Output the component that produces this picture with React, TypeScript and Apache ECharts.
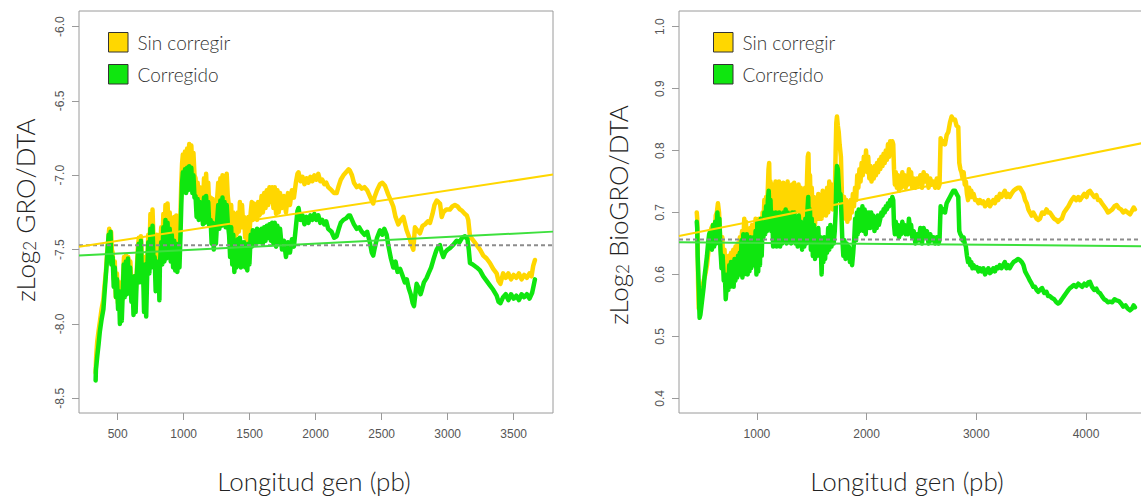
import React, { useEffect, useRef } from "react";
import * as echarts from "echarts";

// ---------- tick values ----------
const leftXTicks = [500, 1000, 1500, 2000, 2500, 3000, 3500];
const leftYTicks = [-8.5, -8.0, -7.5, -7.0, -6.5, -6.0];
const rightXTicks = [1000, 2000, 3000, 4000];
const rightYTicks = [0.4, 0.5, 0.6, 0.7, 0.8, 0.9, 1.0];

// ---------- left panel: zLog2 GRO/DTA ----------
const leftSinCorregir = [
  [333,-8.33],[337,-8.22],[345,-8.12],[355,-8.05],[366,-7.98],[378,-7.90],[391,-7.84],[400,-7.75],[411,-7.65],[420,-7.52],[429,-7.43],
  [436,-7.36],[444,-7.45],[450,-7.38],[456,-7.50],
  [462,-7.52],[470,-7.70],[478,-7.58],[486,-7.82],[494,-7.66],[502,-7.86],[510,-7.72],[518,-7.88],[526,-7.74],[534,-7.84],[540,-7.70],
  [548,-7.55],[556,-7.72],[564,-7.54],[572,-7.74],[580,-7.55],[588,-7.70],[596,-7.58],
  [604,-7.75],[612,-7.68],[620,-7.82],[628,-7.68],[636,-7.80],[644,-7.66],
  [652,-7.50],[660,-7.42],[668,-7.60],[676,-7.41],[684,-7.58],
  [692,-7.56],[700,-7.75],[708,-7.55],[716,-7.78],[724,-7.58],
  [732,-7.40],[740,-7.55],[748,-7.26],[756,-7.50],[764,-7.23],[772,-7.45],
  [780,-7.42],[788,-7.62],[796,-7.40],[804,-7.60],[812,-7.45],[820,-7.50],
  [830,-7.35],[838,-7.50],[846,-7.26],[854,-7.45],[862,-7.20],[870,-7.42],[878,-7.19],[886,-7.40],[894,-7.25],[902,-7.45],[910,-7.30],
  [920,-7.42],[928,-7.28],[936,-7.43],[944,-7.27],[952,-7.44],[960,-7.30],[968,-7.40],
  [976,-7.25],[982,-7.05],[988,-6.92],[994,-6.86],
  [1002,-6.95],[1010,-6.84],[1018,-6.98],[1026,-6.82],[1034,-6.95],[1042,-6.79],[1050,-6.93],[1058,-6.80],[1066,-6.96],[1074,-6.85],[1082,-7.00],
  [1090,-7.02],[1098,-7.22],[1106,-7.05],[1114,-7.24],[1122,-7.08],[1130,-7.20],
  [1138,-7.10],[1146,-7.25],[1154,-7.02],[1162,-7.20],[1170,-6.99],[1178,-7.18],[1186,-7.05],[1194,-7.22],
  [1204,-7.15],[1212,-7.28],[1220,-7.16],[1228,-7.30],[1236,-7.18],[1244,-7.26],
  [1254,-7.15],[1262,-7.05],[1270,-7.22],[1278,-7.02],[1286,-7.20],[1294,-7.00],[1302,-7.18],[1310,-7.02],[1318,-7.16],[1326,-6.99],[1334,-7.14],
  [1344,-7.22],[1352,-7.40],[1360,-7.20],[1368,-7.42],[1376,-7.25],[1384,-7.44],[1392,-7.30],[1400,-7.40],
  [1410,-7.25],[1418,-7.38],[1426,-7.18],[1434,-7.35],[1442,-7.20],[1450,-7.32],
  [1458,-7.28],[1466,-7.42],[1474,-7.30],[1482,-7.44],[1490,-7.28],[1498,-7.40],
  [1508,-7.25],[1516,-7.18],[1524,-7.30],[1532,-7.19],[1540,-7.28],[1548,-7.20],[1556,-7.30],[1564,-7.18],[1572,-7.27],
  [1580,-7.26],[1590,-7.14],[1600,-7.25],[1610,-7.12],[1620,-7.22],[1630,-7.10],[1640,-7.20],[1650,-7.08],[1660,-7.18],[1670,-7.08],
  [1680,-7.22],[1690,-7.08],[1700,-7.26],[1710,-7.10],[1720,-7.25],[1730,-7.12],
  [1745,-7.22],[1760,-7.14],[1775,-7.25],[1790,-7.12],[1805,-7.20],[1820,-7.10],[1835,-7.15],
  [1850,-7.05],[1862,-6.99],[1870,-6.98],
  [1885,-7.04],[1900,-7.01],[1915,-7.06],[1930,-7.02],[1945,-7.05],[1960,-7.01],[1975,-7.04],[1990,-7.00],[2005,-7.03],[2020,-6.99],[2035,-7.04],[2050,-7.03],[2065,-7.06],[2080,-7.05],[2095,-7.08],
  [2120,-7.10],[2140,-7.12],[2159,-7.12],[2175,-7.07],[2190,-7.03],[2210,-7.00],
  [2230,-6.98],[2250,-6.96],[2260,-6.97],[2275,-7.00],
  [2290,-7.05],[2311,-7.08],[2330,-7.07],[2350,-7.09],[2370,-7.08],[2390,-7.10],
  [2410,-7.14],[2425,-7.17],[2436,-7.19],[2445,-7.15],
  [2465,-7.10],[2487,-7.06],[2505,-7.05],[2525,-7.07],
  [2550,-7.13],[2570,-7.17],[2588,-7.21],[2605,-7.28],[2626,-7.33],[2645,-7.30],[2664,-7.28],[2689,-7.37],[2710,-7.42],[2727,-7.47],[2740,-7.50],
  [2752,-7.35],[2770,-7.37],[2790,-7.39],[2810,-7.34],[2828,-7.33],[2850,-7.31],[2866,-7.32],[2885,-7.26],[2900,-7.20],[2917,-7.17],[2930,-7.18],[2942,-7.19],
  [2955,-7.28],[2967,-7.25],[2990,-7.23],[3017,-7.23],[3035,-7.21],[3055,-7.20],[3075,-7.21],[3093,-7.23],[3110,-7.24],[3131,-7.26],[3145,-7.27],[3156,-7.30],
  [3169,-7.41],[3195,-7.44],[3220,-7.47],[3245,-7.50],[3270,-7.54],[3295,-7.56],[3320,-7.59],[3345,-7.63],[3371,-7.66],[3385,-7.71],[3400,-7.73],
  [3420,-7.66],[3440,-7.69],[3460,-7.66],[3480,-7.70],[3500,-7.67],[3520,-7.69],[3540,-7.66],[3560,-7.70],[3580,-7.67],[3600,-7.69],[3620,-7.66],[3635,-7.68],[3648,-7.61],[3661,-7.57],
];

const leftCorregido = [
  [333,-8.38],[335,-8.31],[345,-8.22],[355,-8.14],[365,-8.05],[378,-7.97],[392,-7.90],[400,-7.80],[410,-7.68],[418,-7.58],[425,-7.48],
  [432,-7.40],[440,-7.55],[446,-7.38],[452,-7.60],
  [462,-7.55],[470,-7.75],[478,-7.62],[487,-7.82],[495,-7.70],[503,-7.90],[510,-7.78],[517,-8.00],[524,-7.85],[531,-7.98],[538,-7.80],
  [546,-7.60],[554,-7.82],[562,-7.58],[570,-7.80],[578,-7.56],[586,-7.78],[594,-7.62],
  [604,-7.85],[612,-7.70],[620,-7.94],[628,-7.68],[636,-7.92],[644,-7.70],
  [652,-7.55],[660,-7.46],[668,-7.72],[676,-7.44],[684,-7.70],
  [692,-7.62],[700,-7.92],[708,-7.60],[716,-7.95],[724,-7.65],
  [732,-7.45],[740,-7.66],[748,-7.36],[756,-7.62],[764,-7.34],[772,-7.60],
  [780,-7.55],[788,-7.78],[796,-7.58],[804,-7.76],[812,-7.62],[816,-7.84],[820,-7.60],
  [830,-7.45],[838,-7.60],[846,-7.35],[854,-7.58],[862,-7.30],[870,-7.56],[878,-7.32],[886,-7.55],[894,-7.36],[902,-7.58],[910,-7.40],
  [920,-7.62],[928,-7.44],[936,-7.64],[944,-7.46],[952,-7.65],[960,-7.50],[968,-7.62],
  [976,-7.40],[982,-7.20],[988,-7.05],[994,-6.98],
  [1002,-7.10],[1010,-6.96],[1018,-7.12],[1026,-6.95],[1034,-7.10],[1042,-6.94],[1050,-7.08],[1058,-6.95],[1066,-7.12],[1074,-7.00],[1082,-7.15],
  [1090,-7.14],[1098,-7.28],[1106,-7.16],[1114,-7.30],[1122,-7.18],[1130,-7.28],
  [1138,-7.20],[1146,-7.33],[1154,-7.15],[1162,-7.32],[1170,-7.14],[1178,-7.30],[1186,-7.18],[1194,-7.34],
  [1204,-7.30],[1212,-7.46],[1220,-7.32],[1228,-7.50],[1236,-7.34],[1244,-7.46],
  [1254,-7.30],[1262,-7.20],[1270,-7.36],[1278,-7.17],[1286,-7.34],[1294,-7.15],[1302,-7.33],[1310,-7.18],[1318,-7.35],[1326,-7.20],[1334,-7.32],
  [1344,-7.40],[1352,-7.55],[1360,-7.35],[1368,-7.60],[1376,-7.40],[1384,-7.65],[1392,-7.45],[1400,-7.62],
  [1410,-7.43],[1418,-7.60],[1426,-7.42],[1434,-7.62],[1442,-7.45],[1450,-7.58],
  [1458,-7.45],[1466,-7.62],[1474,-7.48],[1482,-7.64],[1490,-7.46],[1498,-7.60],
  [1508,-7.40],[1516,-7.48],[1524,-7.37],[1532,-7.47],[1540,-7.38],[1548,-7.46],[1556,-7.36],[1564,-7.45],[1572,-7.37],
  [1580,-7.45],[1590,-7.36],[1600,-7.46],[1610,-7.35],[1620,-7.44],[1630,-7.34],[1640,-7.42],[1650,-7.33],[1660,-7.44],[1670,-7.32],
  [1680,-7.46],[1690,-7.32],[1700,-7.48],[1710,-7.34],[1720,-7.46],[1730,-7.36],
  [1745,-7.50],[1760,-7.44],[1775,-7.55],[1790,-7.45],[1805,-7.52],[1820,-7.43],[1835,-7.48],
  [1850,-7.35],[1862,-7.24],[1870,-7.22],
  [1885,-7.30],[1900,-7.27],[1915,-7.33],[1930,-7.28],[1945,-7.32],[1960,-7.27],[1975,-7.30],[1990,-7.26],[2005,-7.30],[2020,-7.27],[2035,-7.32],[2050,-7.30],[2065,-7.33],[2080,-7.31],[2095,-7.36],
  [2120,-7.38],[2140,-7.42],[2159,-7.41],[2175,-7.36],[2190,-7.32],[2210,-7.30],
  [2230,-7.29],[2250,-7.27],[2260,-7.27],[2275,-7.30],
  [2290,-7.33],[2311,-7.36],[2330,-7.35],[2350,-7.38],[2370,-7.40],[2390,-7.38],
  [2410,-7.45],[2425,-7.52],[2436,-7.54],[2445,-7.50],
  [2465,-7.42],[2487,-7.37],[2505,-7.40],[2520,-7.36],[2538,-7.40],
  [2550,-7.47],[2570,-7.56],[2588,-7.62],[2605,-7.58],[2620,-7.65],[2640,-7.63],
  [2660,-7.68],[2675,-7.72],[2690,-7.70],[2705,-7.76],[2720,-7.80],[2735,-7.86],[2745,-7.88],
  [2758,-7.78],[2765,-7.73],[2780,-7.76],[2795,-7.80],[2805,-7.77],[2820,-7.72],[2841,-7.69],[2855,-7.66],
  [2875,-7.62],[2891,-7.57],[2905,-7.53],[2917,-7.50],[2930,-7.48],[2942,-7.47],[2955,-7.52],[2967,-7.55],[2980,-7.52],
  [3000,-7.50],[3017,-7.49],[3040,-7.47],[3068,-7.44],[3090,-7.45],[3110,-7.42],[3131,-7.41],[3150,-7.43],
  [3160,-7.50],[3169,-7.59],[3190,-7.60],[3220,-7.62],[3245,-7.64],[3270,-7.68],[3295,-7.71],[3320,-7.74],[3345,-7.77],[3371,-7.81],[3385,-7.85],[3400,-7.86],
  [3420,-7.82],[3440,-7.80],[3460,-7.84],[3480,-7.80],[3500,-7.83],[3520,-7.81],[3540,-7.84],[3560,-7.80],[3580,-7.82],[3600,-7.80],[3620,-7.83],[3640,-7.79],[3652,-7.74],[3661,-7.70],
];

const leftSinFit = [[207, -7.48], [3798, -6.995]];
const leftCorFit = [[207, -7.54], [3798, -7.379]];
const leftMean = [[207, -7.47], [3798, -7.47]];

// ---------- right panel: zLog2 BioGRO/DTA ----------
const rightSinCorregir = [
  [452,0.700],[456,0.690],[460,0.650],[464,0.585],[470,0.545],[485,0.560],[500,0.575],[515,0.590],[530,0.600],[545,0.615],[560,0.640],[570,0.660],[585,0.675],[600,0.680],[615,0.660],[625,0.695],[635,0.700],[645,0.715],[655,0.700],
  [665,0.660],[675,0.630],[685,0.660],[695,0.610],[705,0.640],[715,0.600],
  [725,0.625],[735,0.605],[745,0.630],[755,0.610],[765,0.635],[775,0.612],[785,0.640],[795,0.615],[805,0.645],[815,0.620],[825,0.650],[835,0.625],[845,0.660],
  [855,0.640],[865,0.670],[875,0.645],[885,0.690],[893,0.650],[900,0.685],[910,0.645],[920,0.670],[930,0.640],
  [940,0.675],[948,0.635],[956,0.680],[964,0.640],[972,0.675],[980,0.635],
  [988,0.690],[996,0.645],[1004,0.685],[1012,0.650],[1020,0.690],[1028,0.655],[1036,0.680],[1044,0.660],[1052,0.700],
  [1060,0.680],[1068,0.720],[1076,0.690],[1084,0.725],[1092,0.700],
  [1100,0.740],[1106,0.770],[1112,0.780],[1118,0.720],[1124,0.750],[1130,0.700],
  [1138,0.740],[1146,0.700],[1154,0.745],[1162,0.705],[1170,0.750],[1178,0.700],[1186,0.745],[1194,0.710],[1202,0.750],[1210,0.705],
  [1220,0.745],[1230,0.700],[1240,0.748],[1250,0.705],[1260,0.745],[1270,0.700],[1280,0.750],[1290,0.705],[1300,0.740],[1310,0.700],[1320,0.745],[1330,0.710],[1340,0.748],[1350,0.700],[1360,0.740],[1370,0.705],[1380,0.745],[1390,0.700],[1400,0.740],[1410,0.690],[1420,0.735],[1430,0.695],[1440,0.740],[1450,0.700],
  [1458,0.760],[1464,0.790],[1470,0.795],[1476,0.740],
  [1484,0.760],[1492,0.700],[1500,0.740],[1510,0.690],[1520,0.725],[1530,0.680],[1540,0.720],[1550,0.690],[1560,0.730],[1570,0.690],
  [1580,0.720],[1590,0.690],[1600,0.735],[1610,0.700],[1620,0.720],[1630,0.695],
  [1640,0.740],[1650,0.700],[1660,0.750],[1670,0.710],[1680,0.745],[1690,0.705],[1700,0.740],[1710,0.720],
  [1718,0.800],[1724,0.845],[1730,0.855],[1738,0.840],[1746,0.830],[1754,0.810],[1760,0.800],[1766,0.790],
  [1775,0.730],[1785,0.700],[1795,0.725],[1805,0.690],[1815,0.720],[1825,0.685],[1835,0.715],[1845,0.690],[1855,0.720],[1865,0.700],[1875,0.730],
  [1885,0.710],[1895,0.740],[1905,0.720],[1915,0.760],[1925,0.740],[1935,0.770],[1945,0.750],[1955,0.780],
  [1965,0.760],[1975,0.790],[1985,0.770],[1995,0.800],[2005,0.765],[2015,0.790],[2025,0.755],
  [2035,0.775],[2045,0.750],[2055,0.770],[2065,0.755],[2075,0.775],[2085,0.760],[2095,0.780],[2105,0.765],[2115,0.785],
  [2125,0.770],[2135,0.790],[2145,0.775],[2155,0.795],[2165,0.780],[2175,0.800],[2185,0.785],[2195,0.810],[2205,0.790],[2215,0.815],[2225,0.800],[2235,0.815],[2243,0.810],
  [2250,0.770],[2258,0.745],
  [2266,0.765],[2276,0.740],[2286,0.760],[2296,0.735],[2306,0.755],[2316,0.740],[2326,0.765],[2336,0.745],[2346,0.760],[2356,0.740],[2366,0.755],[2376,0.745],[2386,0.770],[2396,0.750],[2406,0.765],[2416,0.740],
  [2430,0.755],[2445,0.740],[2460,0.755],[2475,0.745],[2490,0.760],[2505,0.740],[2520,0.765],[2535,0.750],[2550,0.760],[2565,0.740],[2580,0.755],[2595,0.745],[2610,0.750],[2625,0.740],[2640,0.755],[2655,0.740],[2665,0.745],
  [2675,0.820],[2685,0.810],[2700,0.815],[2715,0.810],[2730,0.825],[2745,0.830],[2760,0.845],[2775,0.855],[2790,0.850],[2806,0.850],[2820,0.840],[2836,0.838],
  [2845,0.780],[2855,0.770],[2865,0.765],[2875,0.755],[2885,0.765],[2895,0.745],[2905,0.750],
  [2915,0.730],[2925,0.720],[2935,0.740],[2945,0.725],[2955,0.735],[2965,0.725],[2975,0.730],[2990,0.720],[3005,0.720],[3020,0.715],[3033,0.720],
  [3050,0.715],[3065,0.718],[3080,0.710],[3095,0.713],[3110,0.720],[3124,0.710],[3140,0.715],[3155,0.720],[3170,0.715],[3185,0.725],[3200,0.720],[3215,0.730],[3230,0.725],
  [3245,0.730],[3260,0.735],[3275,0.725],[3290,0.730],[3305,0.725],[3320,0.730],[3340,0.735],[3360,0.738],[3380,0.740],[3398,0.740],
  [3415,0.735],[3430,0.730],[3445,0.720],[3460,0.715],[3475,0.705],[3489,0.700],
  [3505,0.695],[3520,0.700],[3535,0.695],[3550,0.690],[3565,0.688],[3580,0.690],
  [3600,0.700],[3620,0.698],[3640,0.705],[3655,0.700],[3671,0.700],
  [3690,0.695],[3710,0.690],[3730,0.688],[3745,0.685],[3762,0.688],
  [3780,0.690],[3800,0.700],[3820,0.705],[3840,0.710],[3854,0.715],
  [3870,0.720],[3890,0.725],[3910,0.720],[3930,0.725],[3945,0.720],
  [3965,0.725],[3985,0.730],[4005,0.725],[4020,0.733],[4036,0.735],
  [4055,0.730],[4075,0.725],[4095,0.728],[4110,0.720],[4127,0.720],
  [4145,0.715],[4165,0.710],[4185,0.705],[4200,0.700],[4218,0.702],
  [4240,0.705],[4260,0.710],[4280,0.712],
  [4300,0.707],[4320,0.705],[4340,0.700],[4360,0.703],[4380,0.700],[4401,0.697],[4420,0.703],[4435,0.708],[4446,0.705],
];

const rightCorregido = [
  [452,0.685],[456,0.675],[460,0.630],[463,0.615],[466,0.600],[469,0.585],[472,0.570],[475,0.545],[478,0.530],[485,0.535],
  [495,0.550],[505,0.565],[515,0.580],[525,0.600],[535,0.615],[545,0.630],[555,0.650],[565,0.665],[575,0.670],[590,0.640],[600,0.680],[610,0.645],[620,0.685],[630,0.650],[640,0.700],[650,0.665],[658,0.690],
  [668,0.640],[678,0.610],[688,0.630],[698,0.590],[708,0.600],[716,0.560],[724,0.580],
  [732,0.600],[740,0.575],[748,0.615],[756,0.580],[764,0.620],[772,0.585],[780,0.615],[788,0.580],[796,0.625],[804,0.590],[812,0.620],[820,0.595],[828,0.630],[836,0.600],[844,0.635],
  [852,0.600],[860,0.655],[868,0.595],[876,0.665],[884,0.600],[892,0.660],[900,0.610],[908,0.665],[916,0.600],[924,0.655],[932,0.605],
  [940,0.660],[948,0.610],[956,0.655],[964,0.615],[972,0.660],[980,0.620],
  [988,0.670],[996,0.600],[1004,0.685],[1012,0.605],[1020,0.680],[1028,0.615],[1036,0.690],[1044,0.630],[1052,0.680],
  [1060,0.660],[1068,0.700],[1076,0.665],[1084,0.710],[1092,0.670],[1100,0.720],
  [1108,0.735],[1116,0.680],[1124,0.720],[1132,0.670],
  [1140,0.700],[1148,0.645],[1156,0.695],[1164,0.650],[1172,0.700],[1180,0.645],[1188,0.690],[1196,0.650],[1204,0.700],[1212,0.645],
  [1222,0.695],[1232,0.650],[1242,0.700],[1252,0.655],[1262,0.705],[1272,0.650],[1282,0.700],[1292,0.655],[1302,0.695],[1312,0.650],[1322,0.700],[1332,0.655],[1342,0.700],[1352,0.650],[1362,0.690],[1372,0.645],[1382,0.695],[1392,0.650],[1402,0.685],[1412,0.640],[1422,0.680],[1432,0.645],[1442,0.690],[1452,0.650],
  [1460,0.700],[1468,0.725],[1476,0.660],
  [1484,0.705],[1492,0.640],[1500,0.690],[1510,0.630],[1520,0.680],[1530,0.625],[1540,0.670],[1550,0.630],[1560,0.675],[1570,0.635],
  [1580,0.660],[1590,0.600],[1598,0.650],[1606,0.620],[1614,0.660],[1622,0.625],[1630,0.655],
  [1640,0.635],[1650,0.675],[1660,0.640],[1670,0.680],[1680,0.645],[1690,0.675],[1700,0.650],[1710,0.670],
  [1718,0.700],[1724,0.750],[1730,0.775],[1738,0.770],[1746,0.745],[1754,0.720],[1762,0.730],[1770,0.700],
  [1778,0.660],[1788,0.630],[1798,0.655],[1808,0.625],[1818,0.650],[1828,0.630],[1838,0.645],[1848,0.620],[1858,0.640],[1868,0.615],[1878,0.635],
  [1888,0.660],[1896,0.690],[1904,0.655],[1912,0.700],[1920,0.665],[1928,0.705],[1936,0.670],[1944,0.700],[1952,0.680],
  [1962,0.710],[1972,0.670],[1982,0.705],[1992,0.665],[2002,0.700],[2012,0.675],[2022,0.700],
  [2032,0.675],[2042,0.700],[2052,0.680],[2062,0.695],[2072,0.670],[2082,0.690],[2092,0.675],[2102,0.695],[2112,0.680],
  [2125,0.690],[2135,0.700],[2145,0.695],[2155,0.705],[2165,0.700],[2175,0.710],[2185,0.705],[2195,0.715],[2205,0.710],[2215,0.720],[2225,0.715],[2235,0.725],[2243,0.720],
  [2250,0.680],[2258,0.665],
  [2266,0.685],[2276,0.665],[2286,0.680],[2296,0.660],[2306,0.675],[2316,0.665],[2326,0.685],[2336,0.670],[2346,0.680],[2356,0.665],[2366,0.675],[2376,0.665],[2386,0.690],[2396,0.675],[2406,0.680],[2416,0.660],
  [2430,0.670],[2445,0.650],[2460,0.665],[2475,0.655],[2490,0.675],[2505,0.650],[2520,0.675],[2535,0.660],[2550,0.670],[2565,0.650],[2580,0.665],[2595,0.655],[2610,0.660],[2625,0.650],[2640,0.660],[2655,0.650],[2665,0.655],
  [2675,0.710],[2685,0.700],[2700,0.705],[2715,0.700],[2730,0.715],[2745,0.720],[2760,0.725],[2775,0.730],[2790,0.735],[2806,0.735],[2820,0.730],[2836,0.725],
  [2845,0.670],[2855,0.665],[2865,0.662],[2875,0.655],[2885,0.660],[2895,0.650],[2905,0.645],
  [2915,0.630],[2925,0.620],[2935,0.625],[2945,0.615],[2955,0.620],[2965,0.610],[2975,0.615],[2990,0.610],[3005,0.612],[3020,0.605],[3033,0.610],
  [3050,0.605],[3065,0.610],[3080,0.600],[3095,0.605],[3110,0.610],[3124,0.602],[3140,0.605],[3155,0.610],[3170,0.605],[3185,0.612],[3200,0.610],[3215,0.615],[3230,0.610],
  [3245,0.615],[3260,0.620],[3275,0.610],[3290,0.615],[3305,0.610],[3320,0.615],[3340,0.620],[3360,0.622],[3380,0.625],[3398,0.623],
  [3415,0.620],[3430,0.615],[3445,0.605],[3460,0.600],[3475,0.595],[3489,0.590],
  [3505,0.585],[3520,0.580],[3535,0.580],[3550,0.575],[3565,0.572],[3580,0.575],
  [3600,0.578],[3620,0.570],[3640,0.572],[3655,0.565],[3671,0.565],
  [3690,0.562],[3710,0.560],[3730,0.555],[3745,0.553],[3762,0.555],
  [3780,0.560],[3800,0.565],[3820,0.570],[3840,0.575],[3854,0.578],
  [3870,0.580],[3890,0.583],[3910,0.580],[3930,0.585],[3945,0.583],
  [3965,0.580],[3985,0.585],[4005,0.582],[4020,0.587],[4036,0.588],
  [4055,0.580],[4075,0.575],[4095,0.577],[4110,0.572],[4127,0.570],
  [4145,0.565],[4165,0.560],[4185,0.558],[4200,0.555],[4218,0.556],
  [4240,0.555],[4260,0.560],[4280,0.558],[4300,0.557],
  [4320,0.553],[4340,0.548],[4360,0.550],[4380,0.545],[4401,0.542],[4420,0.545],[4435,0.550],[4446,0.547],
];

const rightSinFit = [[290, 0.662], [4611, 0.8155]];
const rightCorFit = [[290, 0.652], [4611, 0.6455]];
const rightMean = [[290, 0.6565], [4611, 0.6565]];

// ---------- texts ----------
const legendLabels = ["Sin corregir", "Corregido"];
const xTitle = "Longitud gen (pb)";

const YELLOW = "#FFD700";
const GREEN = "#0FE60F";
const GREEN_FIT = "#3DE03D";
const AXIS_GRAY = "#9a9a9a";
const LABEL_GRAY = "#555";
const TITLE_FONT = "Lato, 'Noto Sans', sans-serif";
const TICK_FONT = "'Liberation Sans', Arial, sans-serif";

function makeXAxis(gridIndex: number, min: number, max: number, ticks: number[]) {
  return {
    type: "value",
    gridIndex,
    min,
    max,
    axisLine: { show: false, onZero: false },
    splitLine: { show: false },
    axisTick: { show: true, inside: false, length: 7, customValues: ticks, lineStyle: { color: AXIS_GRAY, width: 1 } },
    axisLabel: {
      customValues: ticks,
      margin: 15,
      color: LABEL_GRAY,
      fontSize: 12,
      fontFamily: TICK_FONT,
      formatter: (v: number) => String(Math.round(v)),
    },
  };
}

function makeYAxis(gridIndex: number, min: number, max: number, ticks: number[]) {
  return {
    type: "value",
    gridIndex,
    min,
    max,
    axisLine: { show: false, onZero: false },
    splitLine: { show: false },
    axisTick: { show: true, inside: false, length: 7, customValues: ticks, lineStyle: { color: AXIS_GRAY, width: 1 } },
    axisLabel: {
      customValues: ticks,
      margin: 13,
      rotate: 90,
      color: LABEL_GRAY,
      fontSize: 12,
      fontFamily: TICK_FONT,
      formatter: (v: number) => v.toFixed(1),
    },
  };
}

function traceSeries(data: number[][], color: string, idx: number, z: number) {
  return {
    type: "line",
    xAxisIndex: idx,
    yAxisIndex: idx,
    data,
    symbol: "none",
    showSymbol: false,
    silent: true,
    z,
    lineStyle: { color, width: 4.5, cap: "round", join: "round" },
  };
}

function fitSeries(data: number[][], color: string, idx: number, z: number, dashed = false) {
  return {
    type: "line",
    xAxisIndex: idx,
    yAxisIndex: idx,
    data,
    symbol: "none",
    showSymbol: false,
    silent: true,
    z,
    lineStyle: dashed ? { color, width: 2, type: [4, 3] } : { color, width: 2 },
  };
}

function legendGraphic(x: number) {
  return [
    { type: "rect", shape: { x: x, y: 32.5, width: 19.5, height: 19.5 }, style: { fill: YELLOW, stroke: "#333", lineWidth: 1 } },
    { type: "text", x: x + 29, y: 42.5, style: { text: legendLabels[0], fontSize: 19, fontWeight: 300, fontFamily: TITLE_FONT, fill: "#333", align: "left", verticalAlign: "middle" } },
    { type: "rect", shape: { x: x, y: 64.5, width: 19.5, height: 19.5 }, style: { fill: GREEN, stroke: "#333", lineWidth: 1 } },
    { type: "text", x: x + 29, y: 74.5, style: { text: legendLabels[1], fontSize: 19, fontWeight: 300, fontFamily: TITLE_FONT, fill: "#333", align: "left", verticalAlign: "middle" } },
  ];
}

function yTitle(x: number, y: number, rest: string) {
  return {
    type: "text",
    x,
    y,
    rotation: Math.PI / 2,
    style: {
      text: "zLog{s|2} " + rest,
      fontSize: 26,
      fontWeight: 300,
      fontFamily: TITLE_FONT,
      fill: "#222",
      align: "center",
      verticalAlign: "bottom",
      rich: {
        s: { fontSize: 17, fontWeight: 300, fontFamily: TITLE_FONT, fill: "#222", lineHeight: 10, verticalAlign: "bottom" },
      },
    },
  };
}

export default function App() {
  const ref = useRef<HTMLDivElement>(null);

  useEffect(() => {
    if (!ref.current) return;
    const chart = echarts.init(ref.current, null, { renderer: "svg" });
    chart.setOption({
      animation: false,
      backgroundColor: "#ffffff",
      grid: [
        { left: 79, top: 11, width: 474, height: 402, show: true, borderColor: AXIS_GRAY, borderWidth: 1, backgroundColor: "transparent" },
        { left: 679, top: 11, width: 474, height: 402, show: true, borderColor: AXIS_GRAY, borderWidth: 1, backgroundColor: "transparent" },
      ],
      xAxis: [makeXAxis(0, 207, 3798, leftXTicks), makeXAxis(1, 290, 4611, rightXTicks)],
      yAxis: [makeYAxis(0, -8.599, -5.895, leftYTicks), makeYAxis(1, 0.3763, 1.0253, rightYTicks)],
      series: [
        traceSeries(leftSinCorregir, YELLOW, 0, 2),
        traceSeries(leftCorregido, GREEN, 0, 3),
        fitSeries(leftMean, "#8c8c8c", 0, 4, true),
        fitSeries(leftSinFit, YELLOW, 0, 5),
        fitSeries(leftCorFit, GREEN_FIT, 0, 5),
        traceSeries(rightSinCorregir, YELLOW, 1, 2),
        traceSeries(rightCorregido, GREEN, 1, 3),
        fitSeries(rightMean, "#8c8c8c", 1, 4, true),
        fitSeries(rightSinFit, YELLOW, 1, 5),
        fitSeries(rightCorFit, GREEN_FIT, 1, 5),
      ],
      graphic: [
        ...legendGraphic(108.5),
        ...legendGraphic(713.5),
        { type: "text", x: 314, y: 481, style: { text: xTitle, fontSize: 26, fontWeight: 300, fontFamily: TITLE_FONT, fill: "#222", align: "center", verticalAlign: "middle" } },
        { type: "text", x: 907, y: 481, style: { text: xTitle, fontSize: 26, fontWeight: 300, fontFamily: TITLE_FONT, fill: "#222", align: "center", verticalAlign: "middle" } },
        yTitle(38, 210, "GRO/DTA"),
        yTitle(631, 215, "BioGRO/DTA"),
      ],
    });
    return () => chart.dispose();
  }, []);

  return (
    <div style={{ position: "fixed", left: 0, top: 0, width: 1141, height: 497, overflow: "hidden", background: "#fff" }}>
      <div ref={ref} style={{ width: 1170, height: 497 }} />
    </div>
  );
}
